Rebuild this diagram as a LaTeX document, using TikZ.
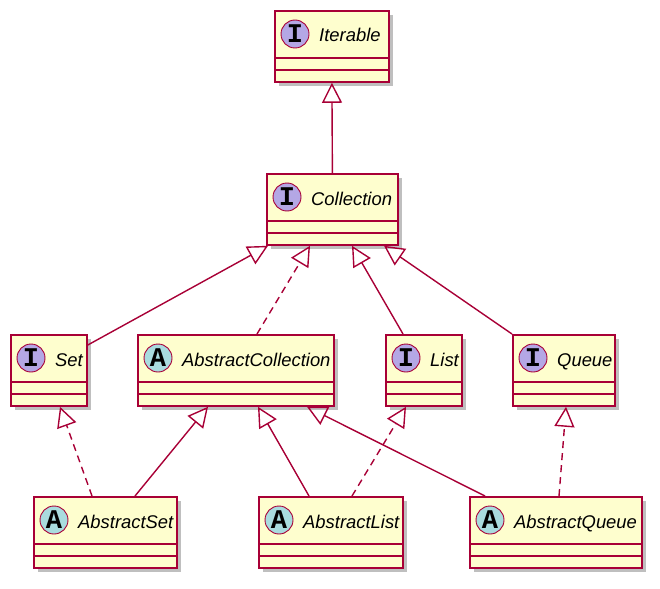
\documentclass[tikz,border=0pt]{standalone}
\usepackage{fontspec}
\setmainfont{Liberation Sans}
\newfontfamily\spotfont{Liberation Mono}
\usepackage{tikz}
\usetikzlibrary{arrows.meta, positioning, calc, shadows}
\definecolor{umlred}{HTML}{A80036}
\definecolor{umlfill}{HTML}{FEFECE}
\definecolor{ifill}{HTML}{B4A7E5}
\definecolor{afill}{HTML}{A9DCDF}

\begin{document}
\begin{tikzpicture}[x=1pt, y=-1pt,
    umlclass/.style={draw=umlred, line width=1.8pt, fill=umlfill, rectangle,
      minimum height=71pt, inner sep=0pt, anchor=north west,
      drop shadow={shadow xshift=4pt, shadow yshift=-4pt, fill=black, opacity=0.25}},
    spot/.style={draw=umlred, line width=0.9pt, circle, minimum size=28pt, inner sep=0pt,
      font=\spotfont\bfseries\fontsize{27}{27}\selectfont},
    spotI/.style={spot, fill=ifill},
    spotA/.style={spot, fill=afill},
    classname/.style={anchor=base west, inner sep=0pt,
      font=\itshape\fontsize{18.4}{22}\selectfont},
    extends/.style={draw=umlred, line width=1.4pt, -{Triangle[open, length=20pt, width=20pt]}},
    realizes/.style={extends, dash pattern=on 7pt off 5pt}]

    \useasboundingbox (0,0) rectangle (660,588);

    % Top of the hierarchy
    \node (iter) [umlclass, minimum width=114pt] at (274,10) {};
    \node (iter-spot) [spotI] at ([xshift=21pt, yshift=-24pt]iter.north west) {I};
    \node (iter-name) [classname] at ([xshift=45pt, yshift=-32pt]iter.north west) {Iterable};

    \node (coll) [umlclass, minimum width=131pt] at (266,173) {};
    \node (coll-spot) [spotI] at ([xshift=21pt, yshift=-24pt]coll.north west) {I};
    \node (coll-name) [classname] at ([xshift=45pt, yshift=-32pt]coll.north west) {Collection};

    % Middle row
    \node (set) [umlclass, minimum width=76pt] at (10,334) {};
    \node (set-spot) [spotI] at ([xshift=21pt, yshift=-24pt]set.north west) {I};
    \node (set-name) [classname] at ([xshift=45pt, yshift=-32pt]set.north west) {Set};

    \node (acoll) [umlclass, minimum width=196pt] at (137,334) {};
    \node (acoll-spot) [spotA] at ([xshift=21pt, yshift=-24pt]acoll.north west) {A};
    \node (acoll-name) [classname] at ([xshift=45pt, yshift=-32pt]acoll.north west) {AbstractCollection};

    \node (list) [umlclass, minimum width=76pt] at (385,334) {};
    \node (list-spot) [spotI] at ([xshift=21pt, yshift=-24pt]list.north west) {I};
    \node (list-name) [classname] at ([xshift=45pt, yshift=-32pt]list.north west) {List};

    \node (queue) [umlclass, minimum width=102pt] at (512,334) {};
    \node (queue-spot) [spotI] at ([xshift=21pt, yshift=-24pt]queue.north west) {I};
    \node (queue-name) [classname] at ([xshift=45pt, yshift=-32pt]queue.north west) {Queue};

    % Bottom row
    \node (aset) [umlclass, minimum width=143pt] at (33,496) {};
    \node (aset-spot) [spotA] at ([xshift=21pt, yshift=-24pt]aset.north west) {A};
    \node (aset-name) [classname] at ([xshift=45pt, yshift=-32pt]aset.north west) {AbstractSet};

    \node (alist) [umlclass, minimum width=144pt] at (258,496) {};
    \node (alist-spot) [spotA] at ([xshift=21pt, yshift=-24pt]alist.north west) {A};
    \node (alist-name) [classname] at ([xshift=45pt, yshift=-32pt]alist.north west) {AbstractList};

    \node (aqueue) [umlclass, minimum width=172pt] at (469,496) {};
    \node (aqueue-spot) [spotA] at ([xshift=21pt, yshift=-24pt]aqueue.north west) {A};
    \node (aqueue-name) [classname] at ([xshift=45pt, yshift=-32pt]aqueue.north west) {AbstractQueue};

    % Empty field and method compartments
    \foreach \c in {iter, coll, set, acoll, list, queue, aset, alist, aqueue} {
      \draw[umlred, line width=1.8pt] ([yshift=-48pt]\c.north west) -- ([yshift=-48pt]\c.north east);
      \draw[umlred, line width=1.8pt] ([yshift=-60pt]\c.north west) -- ([yshift=-60pt]\c.north east);
    }

    % Generalisations (solid) and realisations (dashed)
    \draw[extends] (coll.north) -- (iter.south);
    \draw[extends] ([yshift=-11pt]set.north east) -- ([xshift=2pt]coll.south west);
    \draw[realizes] ([xshift=120pt]acoll.north west) -- ([xshift=44pt]coll.south west);
    \draw[extends] ([xshift=18pt]list.north west) -- ([xshift=86pt]coll.south west);
    \draw[extends] (queue.north west) -- ([xshift=118pt]coll.south west);

    \draw[realizes] ([xshift=59pt]aset.north west) -- ([xshift=50pt]set.south west);
    \draw[extends] ([xshift=102pt]aset.north west) -- ([xshift=71pt]acoll.south west);
    \draw[extends] ([xshift=51pt]alist.north west) -- ([xshift=121pt]acoll.south west);
    \draw[realizes] ([xshift=94pt]alist.north west) -- ([xshift=21pt]list.south west);
    \draw[extends] ([xshift=16pt]aqueue.north west) -- ([xshift=170pt]acoll.south west);
    \draw[realizes] ([xshift=90pt]aqueue.north west) -- ([xshift=54pt]queue.south west);
\end{tikzpicture}
\end{document}
